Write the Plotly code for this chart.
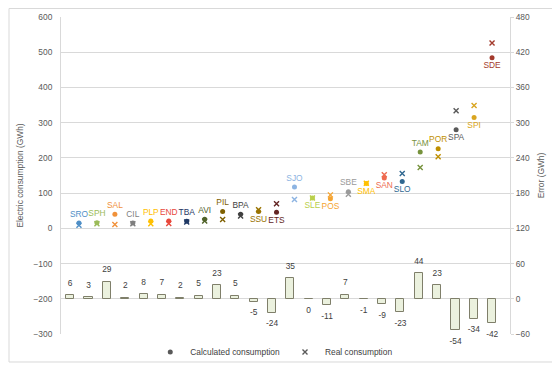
import plotly.graph_objects as go

categories = ["SRO", "SPH", "SAL", "CIL", "PLP", "END", "TBA", "AVI", "PIL", "BPA", "SSU", "ETS",
              "SJO", "SLE", "POS", "SBE", "SMA", "SAN", "SLO", "TAM", "POR", "SPA", "SPI", "SDE"]
calculated = [15, 16, 40, 15, 21, 21, 20, 26, 48, 40, 48, 46,
              117, 86, 84, 104, 127, 143, 133, 217, 226, 280, 315, 484]
real = [9, 13, 11, 13, 13, 14, 18, 21, 25, 35, 53, 70,
        82, 86, 95, 97, 128, 152, 156, 173, 203, 334, 349, 526]
error = [6, 3, 29, 2, 8, 7, 2, 5, 23, 5, -5, -24,
         35, -0.45, -11, 7, -1, -9, -23, 44, 23, -54, -34, -42]
label_colors = ["#4f8fc6", "#9bbb59", "#f0913a", "#7f7f7f", "#ffc000", "#e8473a", "#1f3864", "#4f6228",
                "#7f6000", "#404040", "#997300", "#632523", "#8db4e2", "#b9cf4a", "#f5a431", "#9a9a9a",
                "#ffc000", "#ee6a4f", "#2f6790", "#76923c", "#bf8f00", "#595959", "#d9a520", "#a33a2c"]
label_pos = ["top center"] * 10 + ["bottom center"] * 2 + ["top center"] + ["bottom center"] * 2 + \
            ["top center"] + ["bottom center"] * 3 + ["top center"] * 2 + ["bottom center"] * 3

FONT = "Liberation Sans, Arial, sans-serif"
GRID = "#d9d9d9"
TXT = "#595959"
FS = 8.4

fig = go.Figure()

fig.add_trace(go.Bar(
    x=categories, y=error, xaxis="x2", yaxis="y2",
    marker=dict(color="#ebf1de", line=dict(color="#7f7f6a", width=1)),
    width=0.44, cliponaxis=False, showlegend=False, hoverinfo="skip",
))

fig.add_trace(go.Scatter(
    x=categories, y=error, xaxis="x2", yaxis="y2", mode="markers+text",
    marker=dict(size=10, color="rgba(0,0,0,0)"),
    text=[str(round(v)) for v in error],
    textposition=["top center" if v > 0 else "bottom center" for v in error],
    textfont=dict(size=FS, color="#404040", family=FONT),
    cliponaxis=False, showlegend=False, hoverinfo="skip",
))

fig.add_trace(go.Scatter(
    x=categories, y=real, mode="markers",
    marker=dict(symbol="x-thin", size=5, line=dict(color=label_colors, width=1.4)),
    showlegend=False, cliponaxis=False, name="Real consumption",
))

fig.add_trace(go.Scatter(
    x=categories, y=calculated, mode="markers+text",
    marker=dict(symbol="circle", size=5, color=label_colors),
    text=categories, textposition=label_pos,
    textfont=dict(size=FS, color=label_colors, family=FONT),
    showlegend=False, cliponaxis=False, name="Calculated consumption",
))

fig.add_trace(go.Scatter(
    x=[None], y=[None], mode="markers", name="Calculated consumption",
    marker=dict(symbol="circle", size=5, color="#595959"),
))
fig.add_trace(go.Scatter(
    x=[None], y=[None], mode="markers", name="Real consumption",
    marker=dict(symbol="x-thin", size=5, line=dict(color="#595959", width=1.4)),
))

fig.update_layout(
    width=552, height=362,
    margin=dict(l=53, r=50, t=9, b=36, autoexpand=False),
    paper_bgcolor="white", plot_bgcolor="white",
    font=dict(family=FONT, size=FS, color=TXT),
    xaxis=dict(type="category", range=[-1, 24], showticklabels=False, showgrid=False,
               zeroline=False, showline=False, ticks=""),
    xaxis2=dict(type="category", overlaying="x", range=[-0.5, 23.97], showticklabels=False,
                showgrid=False, zeroline=False, showline=False, ticks=""),
    yaxis=dict(range=[-300, 600], dtick=100, showgrid=True, gridcolor=GRID, gridwidth=1,
               zeroline=False, showline=True, linecolor=GRID, ticks="",
               ticklabelstandoff=6, tickfont=dict(size=FS, color=TXT),
               title=dict(text="Electric consumption (GWh)", font=dict(size=FS, color=TXT), standoff=8)),
    yaxis2=dict(range=[-60, 480], dtick=60, overlaying="y", side="right", anchor="x2",
                showgrid=False, zeroline=False, showline=True, linecolor=GRID,
                ticks="outside", ticklen=3, tickcolor=GRID, tickfont=dict(size=FS, color=TXT),
                title=dict(text="Error (GWh)", font=dict(size=FS, color=TXT), standoff=8)),
    legend=dict(orientation="h", x=0.475, xanchor="center", y=-0.057, yanchor="middle",
                font=dict(size=FS, color="#404040"), itemwidth=30, bgcolor="rgba(0,0,0,0)"),
    shapes=[dict(type="rect", xref="paper", yref="paper",
                 x0=-0.1158, x1=1.0958, y0=-0.0883, y1=1.0268,
                 line=dict(color=GRID, width=1), fillcolor="rgba(0,0,0,0)", layer="below")],
    bargap=0,
)

fig.write_html("out.html")
